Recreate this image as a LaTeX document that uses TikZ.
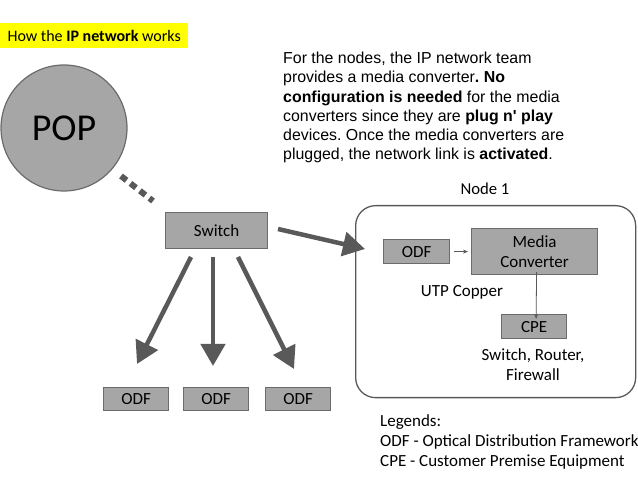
\documentclass[tikz,border=0pt]{standalone}
\usepackage{fontspec}
\setmainfont{Carlito}
\newfontfamily\arialf{Liberation Sans}
\usetikzlibrary{arrows.meta}
\frenchspacing
\definecolor{boxfill}{HTML}{A6A6A6}
\definecolor{boxline}{HTML}{6B6B6B}
\definecolor{arrowc}{HTML}{595959}
\definecolor{hiyellow}{HTML}{FFFF00}
\tikzset{
  graybox/.style={draw=boxline, line width=1.2pt, fill=boxfill, inner sep=0pt, anchor=north west},
  bigarrow/.style={draw=arrowc, line width=4.5pt, -{Triangle[length=22pt,width=24pt]}},
  smallarrow/.style={draw=arrowc, line width=0.8pt, -{Stealth[length=5pt,width=4pt]}},
  lbl/.style={inner sep=0pt, font=\fontsize{17}{20}\selectfont},
}
\begin{document}
\begin{tikzpicture}[x=1pt,y=-1pt]
\useasboundingbox (0,0) rectangle (638,478);
% title
\node[fill=hiyellow, inner sep=0pt, anchor=north west, minimum width=188pt, minimum height=25pt] (title) at (0,23) {};
\node[inner sep=0pt, font=\fontsize{16}{19}\selectfont] (titletxt) at (title.center) {How the \textbf{IP network} works};
% POP
\node[circle, draw=boxline, line width=1.2pt, fill=boxfill, minimum size=126pt, inner sep=0pt, font=\fontsize{38}{42}\selectfont] (pop) at (64,128) {POP};
% paragraph
\node[anchor=north west, inner sep=0pt, align=left, font=\arialf\fontsize{15.9}{19.2}\selectfont] (para) at (283,52) {For the nodes, the IP network team\\provides a media converter\textbf{. No}\\\textbf{configuration is needed} for the media\\converters since they are \textbf{plug n' play}\\devices. Once the media converters are\\plugged, the network link is \textbf{activated}.};
% switch
\node[graybox, minimum width=102pt, minimum height=36pt] (sw) at (165,212) {};
\node[lbl] at (sw.center) {Switch};
\coordinate (d1) at (121,176);
\coordinate (d2) at (153,201);
\draw[arrowc, line width=6pt, dash pattern=on 7pt off 5pt] (d1) -- (d2);
% bottom ODFs
\node[graybox, minimum width=65pt, minimum height=23pt] (o1) at (103,387) {};
\node[graybox, minimum width=65pt, minimum height=23pt] (o2) at (183,387) {};
\node[graybox, minimum width=65pt, minimum height=23pt] (o3) at (265,387) {};
\node[lbl] at (o1.center) {ODF};
\node[lbl] at (o2.center) {ODF};
\node[lbl] at (o3.center) {ODF};
\coordinate (s1) at (191,257);
\coordinate (t1) at (137,364);
\coordinate (s2) at (213,257);
\coordinate (t2) at (213,366);
\coordinate (s3) at (238,257);
\coordinate (t3) at (294,369);
\draw[bigarrow] (s1) -- (t1);
\draw[bigarrow] (s2) -- (t2);
\draw[bigarrow] (s3) -- (t3);
% node 1 frame
\node[draw=arrowc, line width=1.3pt, rounded corners=20pt, minimum width=280pt, minimum height=192pt, anchor=north west, inner sep=0pt] (n1) at (355,205) {};
\node[inner sep=0pt, font=\fontsize{16.7}{19}\selectfont] (n1lbl) at (485,189) {Node 1};
\coordinate (s4) at (278,229);
\coordinate (t4) at (365,249);
\draw[bigarrow] (s4) -- (t4);
% inside node
\node[graybox, minimum width=66pt, minimum height=24pt] (iodf) at (383,239) {};
\node[lbl] at (iodf.center) {ODF};
\node[graybox, minimum width=126pt, minimum height=46pt] (mc) at (471,228) {};
\node[lbl, align=center, font=\fontsize{17}{20.5}\selectfont] at (mc.center) {Media\\Converter};
\draw[smallarrow] ([xshift=4pt]iodf.east) -- ([xshift=-3pt]mc.west);
\node[lbl] (utp) at (462,292) {UTP Copper};
\node[graybox, minimum width=65pt, minimum height=24pt] (cpe) at (501,314) {};
\node[lbl] at (cpe.center) {CPE};
\draw[smallarrow] ([xshift=2pt, yshift=3pt]mc.south) -- ([xshift=2pt, yshift=-5pt]cpe.north);
\node[lbl, align=center, font=\fontsize{17}{20}\selectfont] (cpelbl) at (533,365) {Switch, Router,\\Firewall};
% legends
\node[anchor=west, inner sep=0pt, align=left, font=\fontsize{17}{20}\selectfont] (leg) at (380,442) {Legends:\\ODF - Optical Distribution Framework\\CPE - Customer Premise Equipment};
\end{tikzpicture}
\end{document}
